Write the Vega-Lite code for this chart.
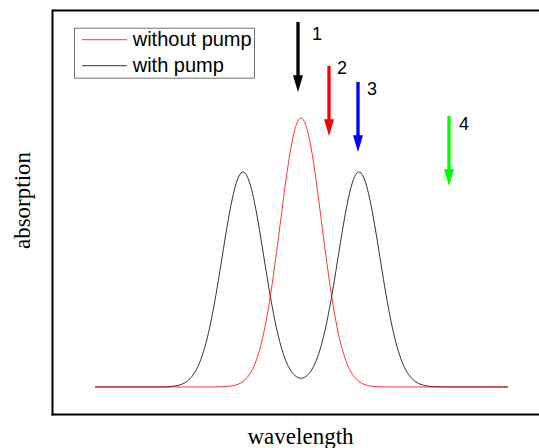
{
  "$schema": "https://vega.github.io/schema/vega-lite/v6.json",
  "width": 487,
  "height": 404,
  "autosize": {"type": "none"},
  "padding": {"left": 52, "top": 10, "right": 0, "bottom": 34},
  "config": {
    "view": {"stroke": null},
    "axis": {"ticks": false, "labels": false, "grid": false, "domainColor": "black", "domainWidth": 2, "domainCap": "square", "titleFont": "Liberation Serif", "titleFontSize": 23, "titleFontWeight": "normal", "titleColor": "black"}
  },
  "datasets": {
    "curves": [
      {"series": "with pump", "x": 95, "y": 0}, {"series": "with pump", "x": 156, "y": 0}, {"series": "with pump", "x": 161, "y": 0.1}, {"series": "with pump", "x": 166, "y": 0.2}, {"series": "with pump", "x": 171, "y": 0.5}, {"series": "with pump", "x": 176, "y": 1.2}, {"series": "with pump", "x": 181, "y": 2.5}, {"series": "with pump", "x": 186, "y": 5.0}, {"series": "with pump", "x": 191, "y": 9.4}, {"series": "with pump", "x": 196, "y": 16.7}, {"series": "with pump", "x": 201, "y": 28.0}, {"series": "with pump", "x": 206, "y": 44.2}, {"series": "with pump", "x": 211, "y": 65.8}, {"series": "with pump", "x": 216, "y": 92.6}, {"series": "with pump", "x": 221, "y": 122.9}, {"series": "with pump", "x": 226, "y": 154.0}, {"series": "with pump", "x": 231, "y": 182.0}, {"series": "with pump", "x": 236, "y": 203.2}, {"series": "with pump", "x": 241, "y": 214.0}, {"series": "with pump", "x": 243, "y": 215.0}, {"series": "with pump", "x": 246, "y": 212.8}, {"series": "with pump", "x": 251, "y": 199.7}, {"series": "with pump", "x": 256, "y": 176.9}, {"series": "with pump", "x": 261, "y": 147.9}, {"series": "with pump", "x": 266, "y": 116.7}, {"series": "with pump", "x": 271, "y": 86.9}, {"series": "with pump", "x": 276, "y": 61.1}, {"series": "with pump", "x": 281, "y": 40.7}, {"series": "with pump", "x": 286, "y": 25.8}, {"series": "with pump", "x": 291, "y": 16.0}, {"series": "with pump", "x": 296, "y": 10.6}, {"series": "with pump", "x": 301, "y": 8.8}, {"series": "with pump", "x": 306, "y": 10.6}, {"series": "with pump", "x": 311, "y": 16.0}, {"series": "with pump", "x": 316, "y": 25.8}, {"series": "with pump", "x": 321, "y": 40.7}, {"series": "with pump", "x": 326, "y": 61.1}, {"series": "with pump", "x": 331, "y": 86.9}, {"series": "with pump", "x": 336, "y": 116.7}, {"series": "with pump", "x": 341, "y": 147.9}, {"series": "with pump", "x": 346, "y": 176.9}, {"series": "with pump", "x": 351, "y": 199.7}, {"series": "with pump", "x": 356, "y": 212.8}, {"series": "with pump", "x": 359, "y": 215.0}, {"series": "with pump", "x": 361, "y": 214.0}, {"series": "with pump", "x": 366, "y": 203.2}, {"series": "with pump", "x": 371, "y": 182.0}, {"series": "with pump", "x": 376, "y": 154.0}, {"series": "with pump", "x": 381, "y": 122.9}, {"series": "with pump", "x": 386, "y": 92.6}, {"series": "with pump", "x": 391, "y": 65.8}, {"series": "with pump", "x": 396, "y": 44.2}, {"series": "with pump", "x": 401, "y": 28.0}, {"series": "with pump", "x": 406, "y": 16.7}, {"series": "with pump", "x": 411, "y": 9.4}, {"series": "with pump", "x": 416, "y": 5.0}, {"series": "with pump", "x": 421, "y": 2.5}, {"series": "with pump", "x": 426, "y": 1.2}, {"series": "with pump", "x": 431, "y": 0.5}, {"series": "with pump", "x": 436, "y": 0.2}, {"series": "with pump", "x": 441, "y": 0.1}, {"series": "with pump", "x": 446, "y": 0}, {"series": "with pump", "x": 508, "y": 0},
      {"series": "without pump", "x": 95, "y": 0}, {"series": "without pump", "x": 206, "y": 0}, {"series": "without pump", "x": 211, "y": 0}, {"series": "without pump", "x": 216, "y": 0.1}, {"series": "without pump", "x": 221, "y": 0.2}, {"series": "without pump", "x": 226, "y": 0.4}, {"series": "without pump", "x": 231, "y": 0.9}, {"series": "without pump", "x": 236, "y": 2.0}, {"series": "without pump", "x": 241, "y": 4.2}, {"series": "without pump", "x": 246, "y": 8.2}, {"series": "without pump", "x": 251, "y": 15.0}, {"series": "without pump", "x": 256, "y": 25.9}, {"series": "without pump", "x": 261, "y": 42.3}, {"series": "without pump", "x": 266, "y": 65.3}, {"series": "without pump", "x": 271, "y": 95.1}, {"series": "without pump", "x": 276, "y": 130.6}, {"series": "without pump", "x": 281, "y": 169.4}, {"series": "without pump", "x": 286, "y": 207.4}, {"series": "without pump", "x": 291, "y": 239.7}, {"series": "without pump", "x": 296, "y": 261.3}, {"series": "without pump", "x": 301, "y": 269.0}, {"series": "without pump", "x": 306, "y": 261.3}, {"series": "without pump", "x": 311, "y": 239.7}, {"series": "without pump", "x": 316, "y": 207.4}, {"series": "without pump", "x": 321, "y": 169.4}, {"series": "without pump", "x": 326, "y": 130.6}, {"series": "without pump", "x": 331, "y": 95.1}, {"series": "without pump", "x": 336, "y": 65.3}, {"series": "without pump", "x": 341, "y": 42.3}, {"series": "without pump", "x": 346, "y": 25.9}, {"series": "without pump", "x": 351, "y": 15.0}, {"series": "without pump", "x": 356, "y": 8.2}, {"series": "without pump", "x": 361, "y": 4.2}, {"series": "without pump", "x": 366, "y": 2.0}, {"series": "without pump", "x": 371, "y": 0.9}, {"series": "without pump", "x": 376, "y": 0.4}, {"series": "without pump", "x": 381, "y": 0.2}, {"series": "without pump", "x": 386, "y": 0.1}, {"series": "without pump", "x": 391, "y": 0}, {"series": "without pump", "x": 508, "y": 0}
    ],
    "arrows": [
      {"id": "1", "x": 298, "top": 365, "tip": 295, "lx": 317, "ly": 352},
      {"id": "2", "x": 329, "top": 321, "tip": 251, "lx": 342, "ly": 318},
      {"id": "3", "x": 358, "top": 305, "tip": 235, "lx": 372, "ly": 297},
      {"id": "4", "x": 449, "top": 271, "tip": 201, "lx": 464, "ly": 262}
    ]
  },
  "resolve": {"scale": {"color": "independent"}},
  "layer": [
    {
      "data": {"name": "curves"},
      "mark": {"type": "line", "interpolate": "monotone", "strokeWidth": 0.8},
      "encoding": {
        "x": {"field": "x", "type": "quantitative", "scale": {"domain": [52, 539], "nice": false, "zero": false}, "axis": {"title": "wavelength", "domain": true, "titleX": 248, "titleY": 29, "titleBaseline": "alphabetic", "titleAlign": "center"}},
        "y": {"field": "y", "type": "quantitative", "scale": {"domain": [-27, 377], "nice": false, "zero": false}, "axis": {"title": "absorption", "domain": true, "grid": true, "values": [377], "gridColor": "black", "gridWidth": 2, "gridOpacity": 1, "titleX": -22.7, "titleY": 190, "titleAngle": 270, "titleBaseline": "alphabetic", "titleAlign": "center"}},
        "color": {"field": "series", "type": "nominal", "scale": {"domain": ["without pump", "with pump"], "range": ["#ff0000", "#000000"]},
          "legend": {"orient": "none", "legendX": 22, "legendY": 17.7, "title": null, "direction": "vertical", "symbolType": "M-2.5,0H2.5", "symbolSize": 324, "symbolStrokeWidth": 0.8, "symbolOffset": 18.5, "labelOffset": 18.2, "labelFont": "Liberation Sans", "labelFontSize": 20, "labelColor": "black", "strokeColor": "#707070", "fillColor": "white", "padding": 2, "rowPadding": 6}}
      }
    },
    {
      "data": {"name": "arrows"},
      "mark": {"type": "rule", "strokeWidth": 3.3, "y2Offset": -10},
      "encoding": {
        "x": {"field": "x", "type": "quantitative"},
        "y": {"field": "top", "type": "quantitative"},
        "y2": {"field": "tip"},
        "color": {"field": "id", "type": "nominal", "scale": {"domain": ["1", "2", "3", "4"], "range": ["#000000", "#ff0000", "#0000ff", "#00ff00"]}, "legend": null}
      }
    },
    {
      "data": {"name": "arrows"},
      "mark": {"type": "point", "shape": "M-0.6,-2L0.6,-2L0,0Z", "size": 279, "filled": true, "opacity": 1},
      "encoding": {
        "x": {"field": "x", "type": "quantitative"},
        "y": {"field": "tip", "type": "quantitative"},
        "color": {"field": "id", "type": "nominal", "scale": {"domain": ["1", "2", "3", "4"], "range": ["#000000", "#ff0000", "#0000ff", "#00ff00"]}, "legend": null}
      }
    },
    {
      "data": {"name": "arrows"},
      "mark": {"type": "text", "font": "Liberation Sans", "fontSize": 18, "align": "center", "baseline": "middle", "color": "black"},
      "encoding": {
        "x": {"field": "lx", "type": "quantitative"},
        "y": {"field": "ly", "type": "quantitative"},
        "text": {"field": "id"}
      }
    }
  ]
}
